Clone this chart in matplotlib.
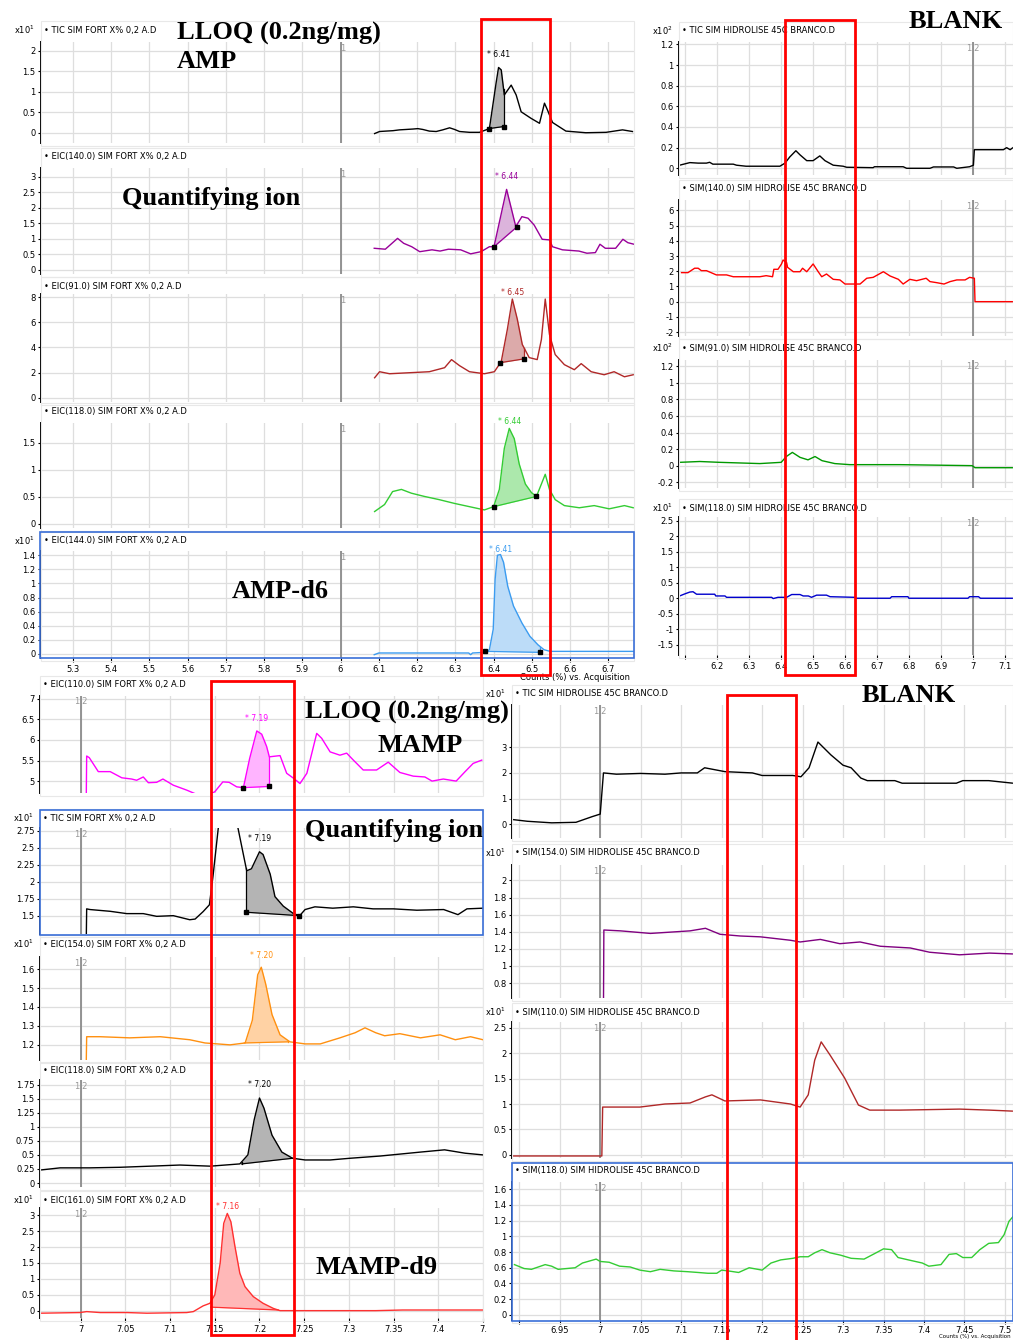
import numpy as np
import matplotlib.pyplot as plt
from matplotlib.patches import Rectangle

W, H = 1013, 1340

# ---------------- AMP, LLOQ (top-left) ----------------
tl1_t = [6.089, 6.102, 6.119, 6.137, 6.154, 6.172, 6.189, 6.202, 6.215, 6.232, 6.25, 6.267, 6.285,
         6.298, 6.311, 6.337, 6.363, 6.389, 6.407, 6.413, 6.42, 6.428, 6.446, 6.459, 6.472, 6.498,
         6.52, 6.533, 6.541, 6.554, 6.589, 6.641, 6.694, 6.737, 6.763]
tl1_y = [-0.02, 0.03, 0.04, 0.05, 0.07, 0.08, 0.09, 0.10, 0.08, 0.04, 0.03, 0.07, 0.12,
         0.08, 0.03, 0.01, 0.01, 0.10, 1.24, 1.59, 1.53, 0.92, 1.16, 0.92, 0.51, 0.35,
         0.23, 0.72, 0.55, 0.25, 0.04, 0.0, 0.01, 0.07, 0.03]

tl2_t = [6.088, 6.117, 6.149, 6.165, 6.186, 6.207, 6.239, 6.26, 6.282, 6.314, 6.34, 6.367, 6.389,
         6.401, 6.434, 6.458, 6.474, 6.49, 6.506, 6.527, 6.546, 6.554, 6.58, 6.623, 6.644, 6.666,
         6.678, 6.692, 6.719, 6.738, 6.751, 6.767]
tl2_y = [0.70, 0.67, 1.02, 0.86, 0.75, 0.59, 0.65, 0.61, 0.67, 0.65, 0.52, 0.59, 0.75,
         0.75, 2.60, 1.40, 1.72, 1.67, 1.45, 0.99, 0.97, 0.75, 0.65, 0.61, 0.54, 0.56,
         0.83, 0.70, 0.70, 0.99, 0.88, 0.83]

tl3_t = [6.089, 6.102, 6.128, 6.18, 6.232, 6.272, 6.29, 6.311, 6.337, 6.376, 6.402, 6.42, 6.436,
         6.449, 6.462, 6.475, 6.493, 6.514, 6.525, 6.535, 6.546, 6.561, 6.585, 6.611, 6.629,
         6.655, 6.689, 6.715, 6.742, 6.765]
tl3_y = [1.6, 2.08, 1.92, 2.0, 2.08, 2.4, 3.04, 2.56, 2.08, 1.92, 2.08, 2.88, 5.44,
         7.84, 6.24, 4.24, 3.2, 3.04, 4.64, 7.84, 5.04, 3.44, 2.64, 2.24, 2.72,
         2.08, 1.84, 2.08, 1.68, 1.84]

tl4_t = [6.089, 6.115, 6.136, 6.159, 6.185, 6.219, 6.258, 6.298, 6.337, 6.376, 6.4, 6.415, 6.428,
         6.441, 6.454, 6.467, 6.483, 6.499, 6.512, 6.525, 6.535, 6.546, 6.561, 6.585, 6.624,
         6.663, 6.702, 6.742, 6.765]
tl4_y = [0.23, 0.36, 0.60, 0.64, 0.57, 0.51, 0.45, 0.38, 0.32, 0.26, 0.32, 0.64, 1.40,
         1.77, 1.58, 1.11, 0.74, 0.58, 0.51, 0.74, 0.92, 0.64, 0.45, 0.34, 0.30,
         0.34, 0.28, 0.34, 0.30]

tl5_t = [6.088, 6.1, 6.335, 6.34, 6.345, 6.378, 6.389, 6.399, 6.404, 6.41, 6.418, 6.426, 6.437,
         6.452, 6.474, 6.495, 6.516, 6.532, 6.548, 6.767]
tl5_y = [-0.01, 0.014, 0.014, -0.01, 0.014, 0.023, 0.06, 0.35, 1.06, 1.40, 1.41, 1.30, 0.96,
         0.68, 0.44, 0.25, 0.13, 0.06, 0.037, 0.037]

# ---------------- BLANK (top-right) ----------------
tr1_t = [6.082, 6.114, 6.14, 6.166, 6.176, 6.186, 6.25, 6.26, 6.29, 6.396, 6.412, 6.427, 6.446,
         6.459, 6.48, 6.5, 6.521, 6.537, 6.563, 6.594, 6.605, 6.688, 6.692, 6.782, 6.793, 6.866,
         6.877, 6.94, 6.95, 6.99, 7.002, 7.005, 7.096, 7.106, 7.117, 7.126]
tr1_y = [0.03, 0.055, 0.05, 0.05, 0.058, 0.04, 0.04, 0.03, 0.02, 0.02, 0.05, 0.11, 0.17,
         0.13, 0.074, 0.074, 0.12, 0.074, 0.03, 0.02, 0.01, 0.006, 0.015, 0.015, 0.0, 0.0,
         0.013, 0.013, 0.0, 0.015, 0.03, 0.18, 0.18, 0.2, 0.18, 0.2]

tr2_t = [6.088, 6.108, 6.129, 6.14, 6.15, 6.166, 6.197, 6.229, 6.25, 6.302, 6.333, 6.353, 6.373,
         6.377, 6.39, 6.401, 6.406, 6.417, 6.42, 6.438, 6.459, 6.467, 6.48, 6.5, 6.516, 6.527,
         6.542, 6.563, 6.584, 6.6, 6.626, 6.647, 6.668, 6.688, 6.72, 6.741, 6.767, 6.782, 6.803,
         6.824, 6.854, 6.866, 6.887, 6.91, 6.929, 6.95, 6.976, 6.99, 7.005, 7.007, 7.126]
tr2_y = [1.91, 1.91, 2.2, 2.2, 2.04, 2.04, 1.76, 1.76, 1.64, 1.64, 1.64, 1.71, 1.64,
         2.13, 2.13, 2.48, 2.74, 2.57, 2.26, 1.97, 1.97, 2.2, 1.97, 2.48, 1.97, 1.64,
         1.82, 1.47, 1.43, 1.16, 1.16, 1.16, 1.54, 1.6, 1.97, 1.69, 1.47, 1.16, 1.47,
         1.38, 1.54, 1.32, 1.25, 1.16, 1.32, 1.43, 1.43, 1.6, 1.54, 0.0, 0.0]

tr3_t = [6.082, 6.145, 6.207, 6.333, 6.4, 6.416, 6.435, 6.459, 6.484, 6.506, 6.528, 6.568, 6.615,
         6.772, 6.998, 7.007, 7.126]
tr3_y = [0.04, 0.05, 0.04, 0.025, 0.04, 0.11, 0.16, 0.10, 0.07, 0.11, 0.06, 0.025, 0.012,
         0.012, 0.0, -0.025, -0.025]

tr4_t = [6.082, 6.098, 6.114, 6.124, 6.135, 6.192, 6.195, 6.224, 6.229, 6.37, 6.375, 6.39, 6.417,
         6.433, 6.459, 6.469, 6.485, 6.495, 6.511, 6.542, 6.553, 6.631, 6.636, 6.741, 6.746,
         6.797, 6.8, 6.985, 6.99, 7.018, 7.024, 7.126]
tr4_y = [0.074, 0.14, 0.2, 0.21, 0.13, 0.13, 0.074, 0.074, 0.03, 0.03, -0.01, 0.03, 0.03,
         0.12, 0.12, 0.074, 0.074, 0.03, 0.1, 0.1, 0.05, 0.03, 0.0, 0.0, 0.05,
         0.05, 0.0, 0.0, 0.05, 0.05, 0.0, 0.0]

# ---------------- MAMP, LLOQ (bottom-left) ----------------
bl1_t = [7.0062, 7.0067, 7.0096, 7.0197, 7.033, 7.046, 7.057, 7.0626, 7.07, 7.0757, 7.085, 7.092,
         7.1036, 7.1186, 7.1316, 7.141, 7.15, 7.159, 7.166, 7.1745, 7.182, 7.189, 7.197, 7.2025,
         7.208, 7.211, 7.223, 7.2304, 7.238, 7.2453, 7.253, 7.264, 7.2696, 7.279, 7.29, 7.2975,
         7.305, 7.316, 7.331, 7.344, 7.357, 7.372, 7.385, 7.393, 7.4056, 7.42, 7.43, 7.439, 7.4486]
bl1_y = [4.5, 5.61, 5.57, 5.23, 5.23, 5.08, 5.05, 5.02, 5.10, 4.96, 4.97, 5.05,
         4.90, 4.78, 4.66, 4.64, 4.74, 4.98, 4.97, 4.86, 4.84, 5.55, 6.22, 6.14,
         5.84, 5.59, 5.62, 5.19, 5.07, 4.94, 5.19, 6.16, 6.04, 5.71, 5.63, 5.68,
         5.51, 5.27, 5.27, 5.46, 5.21, 5.12, 5.10, 5.0, 5.05, 5.0, 5.23, 5.43, 5.51]

bl2_t = [7.0062, 7.0067, 7.0104, 7.033, 7.0515, 7.07, 7.085, 7.1036, 7.122, 7.128, 7.137, 7.144,
         7.148, 7.154, 7.158, 7.17, 7.175, 7.1857, 7.191, 7.2, 7.204, 7.212, 7.2173, 7.2266,
         7.238, 7.245, 7.251, 7.262, 7.282, 7.305, 7.327, 7.35, 7.376, 7.406, 7.422, 7.432, 7.45]
bl2_y = [1.1, 1.60, 1.59, 1.564, 1.53, 1.53, 1.49, 1.50, 1.44, 1.45, 1.56, 1.66,
         2.08, 2.80, 3.60, 3.60, 2.85, 2.16, 2.19, 2.44, 2.40, 2.11, 1.78, 1.64,
         1.53, 1.50, 1.59, 1.63, 1.61, 1.63, 1.60, 1.60, 1.58, 1.59, 1.515, 1.60, 1.61]

bl3_t = [7.0062, 7.0067, 7.0216, 7.055, 7.089, 7.122, 7.139, 7.167, 7.184, 7.192, 7.198, 7.202,
         7.207, 7.214, 7.223, 7.234, 7.251, 7.268, 7.29, 7.307, 7.318, 7.33, 7.34, 7.357, 7.38,
         7.402, 7.419, 7.436, 7.45]
bl3_y = [1.10, 1.243, 1.243, 1.237, 1.243, 1.227, 1.21, 1.20, 1.21, 1.33, 1.57, 1.61,
         1.52, 1.36, 1.253, 1.216, 1.205, 1.205, 1.237, 1.264, 1.29, 1.264, 1.248, 1.259, 1.237,
         1.253, 1.227, 1.243, 1.227]

bl4_t = [6.954, 6.977, 7.01, 7.044, 7.078, 7.111, 7.145, 7.178, 7.187, 7.194, 7.2, 7.205, 7.214,
         7.225, 7.237, 7.251, 7.279, 7.301, 7.335, 7.38, 7.407, 7.43, 7.45]
bl4_y = [0.23, 0.27, 0.27, 0.28, 0.30, 0.32, 0.30, 0.34, 0.50, 1.12, 1.51, 1.33, 0.85,
         0.55, 0.44, 0.41, 0.41, 0.44, 0.48, 0.55, 0.59, 0.53, 0.50]

bl5_t = [6.9545, 6.9992, 7.0067, 7.022, 7.052, 7.074, 7.1186, 7.126, 7.137, 7.1446, 7.15, 7.156,
         7.16, 7.164, 7.168, 7.1726, 7.178, 7.1838, 7.193, 7.204, 7.2155, 7.223, 7.29, 7.33,
         7.36, 7.45]
bl5_y = [-0.07, -0.05, -0.02, -0.05, -0.05, -0.07, -0.05, -0.02, 0.16, 0.24, 0.50, 1.49,
         2.74, 3.05, 2.79, 2.01, 1.18, 0.76, 0.45, 0.24, 0.08, 0.01, 0.01, 0.01,
         0.03, 0.03]

# ---------------- BLANK (bottom-right) ----------------
br1_t = [6.891, 6.91, 6.94, 6.97, 6.99, 7.0, 7.004, 7.02, 7.05, 7.08, 7.1, 7.12, 7.129, 7.154,
         7.188, 7.2, 7.238, 7.248, 7.258, 7.269, 7.285, 7.3, 7.31, 7.322, 7.33, 7.364, 7.373,
         7.44, 7.448, 7.48, 7.51]
br1_y = [0.19, 0.12, 0.06, 0.08, 0.30, 0.40, 2.0, 1.95, 1.98, 1.95, 2.0, 2.0, 2.2, 2.05,
         2.0, 1.9, 1.9, 1.85, 2.2, 3.2, 2.7, 2.3, 2.2, 1.8, 1.7, 1.7, 1.6,
         1.6, 1.7, 1.7, 1.6]

br2_t = [7.004, 7.0045, 7.025, 7.062, 7.111, 7.13, 7.148, 7.173, 7.198, 7.235, 7.247, 7.272,
         7.296, 7.321, 7.346, 7.383, 7.407, 7.444, 7.481, 7.51]
br2_y = [0.5, 1.42, 1.41, 1.38, 1.41, 1.44, 1.37, 1.35, 1.34, 1.30, 1.28, 1.31,
         1.26, 1.28, 1.23, 1.21, 1.16, 1.13, 1.15, 1.14]

br3_t = [6.891, 7.0, 7.002, 7.003, 7.049, 7.08, 7.111, 7.13, 7.138, 7.154, 7.198, 7.235, 7.247,
         7.257, 7.265, 7.273, 7.284, 7.302, 7.319, 7.333, 7.37, 7.444, 7.481, 7.51]
br3_y = [-0.02, -0.02, -0.02, 0.94, 0.94, 1.0, 1.02, 1.14, 1.18, 1.06, 1.08, 1.0, 0.94,
         1.18, 1.86, 2.22, 1.96, 1.51, 0.98, 0.88, 0.88, 0.90, 0.88, 0.86]

br4_t = [6.894, 6.906, 6.915, 6.932, 6.94, 6.948, 6.969, 6.978, 6.995, 7.0, 7.011, 7.024, 7.037,
         7.049, 7.062, 7.074, 7.091, 7.108, 7.121, 7.133, 7.144, 7.15, 7.158, 7.171, 7.184, 7.2,
         7.211, 7.223, 7.238, 7.247, 7.257, 7.265, 7.274, 7.284, 7.297, 7.31, 7.326, 7.339,
         7.35, 7.36, 7.368, 7.385, 7.398, 7.406, 7.421, 7.431, 7.44, 7.448, 7.459, 7.469, 7.48,
         7.492, 7.499, 7.505, 7.51]
br4_y = [0.64, 0.59, 0.58, 0.64, 0.62, 0.58, 0.60, 0.66, 0.71, 0.68, 0.67, 0.62, 0.61,
         0.57, 0.55, 0.58, 0.56, 0.55, 0.54, 0.53, 0.53, 0.57, 0.56, 0.54, 0.60, 0.57,
         0.66, 0.70, 0.72, 0.74, 0.74, 0.79, 0.83, 0.79, 0.76, 0.72, 0.71, 0.78,
         0.84, 0.83, 0.73, 0.69, 0.66, 0.62, 0.64, 0.77, 0.78, 0.73, 0.73, 0.83, 0.91,
         0.92, 1.02, 1.19, 1.25]

# integration windows: (start, base start, end, base end, label)
tl_peaks = [(6.387, 0.10, 6.426, 0.15, '* 6.41'), (6.401, 0.75, 6.46, 1.38, '* 6.44'),
            (6.418, 2.8, 6.48, 3.1, '* 6.45'), (6.40, 0.32, 6.512, 0.51, '* 6.44'),
            (6.378, 0.037, 6.522, 0.023, '* 6.41')]
bl_peaks = [(7.182, 4.84, 7.211, 4.87, '* 7.19'), (7.185, 1.55, 7.2445, 1.50, '* 7.19'),
            (7.183, 1.21, 7.232, 1.216, '* 7.20'), (7.18, 0.34, 7.237, 0.44, '* 7.20'),
            (7.1454, 0.12, 7.221, 0.03, '* 7.16')]

tl_labels = ['TIC SIM FORT X% 0,2 A.D', 'EIC(140.0) SIM FORT X% 0,2 A.D', 'EIC(91.0) SIM FORT X% 0,2 A.D',
             'EIC(118.0) SIM FORT X% 0,2 A.D', 'EIC(144.0) SIM FORT X% 0,2 A.D']
tr_labels = ['TIC SIM HIDROLISE 45C BRANCO.D', 'SIM(140.0) SIM HIDROLISE 45C BRANCO.D',
             'SIM(91.0) SIM HIDROLISE 45C BRANCO.D', 'SIM(118.0) SIM HIDROLISE 45C BRANCO.D']
bl_labels = ['EIC(110.0) SIM FORT X% 0,2 A.D', 'TIC SIM FORT X% 0,2 A.D', 'EIC(154.0) SIM FORT X% 0,2 A.D',
             'EIC(118.0) SIM FORT X% 0,2 A.D', 'EIC(161.0) SIM FORT X% 0,2 A.D']
br_labels = ['TIC SIM HIDROLISE 45C BRANCO.D', 'SIM(154.0) SIM HIDROLISE 45C BRANCO.D',
             'SIM(110.0) SIM HIDROLISE 45C BRANCO.D', 'SIM(118.0) SIM HIDROLISE 45C BRANCO.D']

tl_xticks = np.round(np.arange(5.3, 6.71, 0.1), 2)
tl_xlabels = ['5.3', '5.4', '5.5', '5.6', '5.7', '5.8', '5.9', '6', '6.1', '6.2', '6.3', '6.4', '6.5', '6.6', '6.7']
tr_xticks = np.round(np.arange(6.1, 7.11, 0.1), 2)
tr_xlabels = ['', '6.2', '6.3', '6.4', '6.5', '6.6', '6.7', '6.8', '6.9', '7', '7.1']
bl_xticks = np.round(np.arange(7.0, 7.451, 0.05), 2)
bl_xlabels = ['7', '7.05', '7.1', '7.15', '7.2', '7.25', '7.3', '7.35', '7.4', '7.']
br_xticks = np.round(np.arange(6.9, 7.51, 0.05), 2)
br_xlabels = ['', '6.95', '7', '7.05', '7.1', '7.15', '7.2', '7.25', '7.3', '7.35', '7.4', '7.45', '7.5']

fig = plt.figure(figsize=(W / 100, H / 100), dpi=100)
fig.patch.set_facecolor('white')
SMALL = 6


def ftext(x, y, s, **kw):
    return fig.text(x / W, 1 - y / H, s, **kw)


def panel(box, ly, xlim, ylim, yticks, xticks, t, y, color, label, mult=None,
          mark=None, mark_txt='1|2', peak=None, fillc=None, squares=False,
          xlabels=None, blue=False, xpad=2):
    l, top, r, b = box
    ax = fig.add_axes([l / W, 1 - b / H, (r - l) / W, (b - top) / H])
    ax.set_xlim(*xlim)
    ax.set_ylim(*ylim)
    ax.set_xticks(xticks)
    ax.set_yticks(yticks)
    ax.set_yticklabels(['{:g}'.format(v) for v in yticks])
    ax.grid(True, color='#dedede', lw=0.9)
    ax.set_axisbelow(True)
    for s in ['top', 'right', 'bottom']:
        ax.spines[s].set_visible(False)
    ax.spines['left'].set_linewidth(1.4)
    ax.tick_params(axis='y', length=2.5, width=0.8, pad=1.5, labelsize=SMALL)
    if xlabels is None:
        ax.tick_params(axis='x', length=0, labelbottom=False)
    else:
        ax.set_xticklabels(xlabels)
        ax.tick_params(axis='x', length=3, width=0.8, pad=xpad, labelsize=SMALL)
    if mark is not None:
        ax.axvline(mark, color='#8c8c8c', lw=1.3, zorder=1.5)
        ax.text(mark, 0.985, mark_txt, transform=ax.get_xaxis_transform(),
                ha='left' if mark_txt == '1' else 'center', va='top', fontsize=SMALL, color='#999999')
    t = np.asarray(t)
    y = np.asarray(y)
    ax.plot(t, y, color=color, lw=1.0, zorder=3)
    if peak is not None:
        x0, b0, x1, b1, ptxt = peak
        xs = np.concatenate([[x0], t[(t > x0) & (t < x1)], [x1]])
        ys = np.interp(xs, t, y)
        bs = np.interp(xs, [x0, x1], [b0, b1])
        ax.fill_between(xs, bs, ys, color=fillc, lw=0, zorder=2)
        ax.plot([x0, x1], [b0, b1], color=color, lw=0.9, zorder=3)
        ax.plot([x1, x1], [b1, ys[-1]], color=color, lw=0.9, zorder=3)
        ax.plot([x0, x0], [b0, ys[0]], color=color, lw=0.9, zorder=3)
        if squares:
            ax.plot([x0, x1], [b0, b1], 's', color='black', ms=3.2, zorder=4)
        i = np.argmax(ys)
        py = min(ys[i] + 0.08 * (ylim[1] - ylim[0]), ylim[1] - 0.03 * (ylim[1] - ylim[0]))
        ax.text(xs[i], py, ptxt, ha='center', va='bottom', fontsize=SMALL - 0.5, color=color, zorder=5)
    ftext(l + 3, ly, '\u2022 ' + label, fontsize=SMALL, va='center', ha='left')
    if mult is not None:
        ftext(l - 6, ly, 'x10$^{%d}$' % mult, fontsize=SMALL, va='center', ha='right')
    # light panel outline
    fig.patches.append(Rectangle((l / W, 1 - (b + 3) / H), (r - l) / W, (b + 3 - ly + 9) / H,
                                 transform=fig.transFigure, fill=False, ec='#e8e8e8', lw=0.8))
    if blue:
        fig.patches.append(Rectangle((blue[0] / W, 1 - blue[3] / H), (blue[2] - blue[0]) / W,
                                     (blue[3] - blue[1]) / H, transform=fig.transFigure,
                                     fill=False, ec='#3a6fd8', lw=1.2, zorder=10))
    return ax


# top-left group
TLX = (5.217, 6.767)
panel((41, 42, 634, 143), 30, TLX, (-0.25, 2.21), [0, 0.5, 1, 1.5, 2], tl_xticks, tl1_t, tl1_y,
      'black', tl_labels[0], mult=1, mark=6.0, mark_txt='1', peak=tl_peaks[0], fillc='#b4b4b4', squares=True)
panel((41, 168, 634, 274), 157, TLX, (-0.13, 3.29), [0, 0.5, 1, 1.5, 2, 2.5, 3], tl_xticks, tl2_t, tl2_y,
      '#990099', tl_labels[1], mark=6.0, mark_txt='1', peak=tl_peaks[1], fillc='#dcb4dc', squares=True)
panel((41, 294, 634, 402), 286, TLX, (-0.32, 8.24), [0, 2, 4, 6, 8], tl_xticks, tl3_t, tl3_y,
      '#b02828', tl_labels[2], mark=6.0, mark_txt='1', peak=tl_peaks[2], fillc='#dcaaaa', squares=True)
panel((41, 423, 634, 528), 412, TLX, (-0.075, 1.87), [0, 0.5, 1, 1.5], tl_xticks, tl4_t, tl4_y,
      '#33cc33', tl_labels[3], mark=6.0, mark_txt='1', peak=tl_peaks[3], fillc='#ace8ac', squares=True)
panel((41, 551, 634, 658), 541, TLX, (-0.057, 1.46), [0, 0.2, 0.4, 0.6, 0.8, 1, 1.2, 1.4], tl_xticks,
      tl5_t, tl5_y, '#3c9cf0', tl_labels[4], mult=1, mark=6.0, mark_txt='1', peak=tl_peaks[4],
      fillc='#bcdcf8', squares=True, xlabels=tl_xlabels, blue=(40, 532, 634, 658))
ftext(520, 678, 'Counts (%) vs. Acquisition', fontsize=SMALL, va='center', ha='left')

# top-right group
TRX = (6.080, 7.126)
panel((679, 42, 1013, 175), 30.7, TRX, (-0.065, 1.223), [0, 0.2, 0.4, 0.6, 0.8, 1, 1.2], tr_xticks,
      tr1_t, tr1_y, 'black', tr_labels[0], mult=2, mark=7.0)
panel((679, 200, 1013, 336), 189, TRX, (-2.26, 6.69), [-2, -1, 0, 1, 2, 3, 4, 5, 6], tr_xticks,
      tr2_t, tr2_y, '#ff0000', tr_labels[1], mark=7.0)
panel((679, 360, 1013, 488), 348, TRX, (-0.27, 1.276), [-0.2, 0, 0.2, 0.4, 0.6, 0.8, 1, 1.2], tr_xticks,
      tr3_t, tr3_y, '#009900', tr_labels[2], mult=2, mark=7.0)
panel((679, 517, 1013, 655), 508, TRX, (-1.83, 2.62), [-1.5, -1, -0.5, 0, 0.5, 1, 1.5, 2, 2.5], tr_xticks,
      tr4_t, tr4_y, '#0000cc', tr_labels[3], mult=1, mark=7.0, xlabels=tr_xlabels)

# bottom-left group
BLX = (6.9545, 7.45)
panel((40, 696, 483, 793), 685, BLX, (4.71, 7.07), [5, 5.5, 6, 6.5, 7], bl_xticks, bl1_t, bl1_y,
      '#ff00ff', bl_labels[0], mark=7.0, peak=bl_peaks[0], fillc='#ffb4ff', squares=True)
panel((40, 828, 483, 934), 818, BLX, (1.23, 2.79), [1.5, 1.75, 2, 2.25, 2.5, 2.75], bl_xticks, bl2_t, bl2_y,
      'black', bl_labels[1], mult=1, mark=7.0, peak=bl_peaks[1], fillc='#b4b4b4', squares=True,
      blue=(40, 810, 483, 935))
panel((40, 957, 483, 1060), 944, BLX, (1.12, 1.664), [1.2, 1.3, 1.4, 1.5, 1.6], bl_xticks, bl3_t, bl3_y,
      '#ff9010', bl_labels[2], mult=1, mark=7.0, peak=bl_peaks[2], fillc='#ffd2a4')
panel((40, 1080, 483, 1187), 1071, BLX, (-0.07, 1.83), [0, 0.25, 0.5, 0.75, 1, 1.25, 1.5, 1.75], bl_xticks,
      bl4_t, bl4_y, 'black', bl_labels[3], mark=7.0, peak=bl_peaks[3], fillc='#b4b4b4')
panel((40, 1208, 483, 1318), 1200, BLX, (-0.22, 3.22), [0, 0.5, 1, 1.5, 2, 2.5, 3], bl_xticks,
      bl5_t, bl5_y, '#ff3030', bl_labels[4], mult=1, mark=7.0, peak=bl_peaks[4], fillc='#ffb8b8',
      xlabels=bl_xlabels)

# bottom-right group
BRX = (6.891, 7.51)
panel((512, 705, 1013, 838), 694, BRX, (-0.53, 4.64), [0, 1, 2, 3], br_xticks, br1_t, br1_y,
      'black', br_labels[0], mult=1, mark=7.0)
panel((512, 865, 1013, 998), 853, BRX, (0.625, 2.18), [0.8, 1, 1.2, 1.4, 1.6, 1.8, 2], br_xticks,
      br2_t, br2_y, '#800080', br_labels[1], mult=1, mark=7.0)
panel((512, 1022, 1013, 1158), 1012, BRX, (-0.06, 2.61), [0, 0.5, 1, 1.5, 2, 2.5], br_xticks,
      br3_t, br3_y, '#b02828', br_labels[2], mult=1, mark=7.0)
panel((512, 1182, 1013, 1320), 1171, BRX, (-0.064, 1.69), [0, 0.2, 0.4, 0.6, 0.8, 1, 1.2, 1.4, 1.6],
      br_xticks, br4_t, br4_y, '#33cc33', br_labels[3], mark=7.0, xlabels=br_xlabels,
      blue=(512, 1163, 1013, 1321), xpad=1)
ftext(1011, 1336.8, 'Counts (%) vs. Acquisition', fontsize=4, va='center', ha='right')

# big annotations
SER = dict(family=['Liberation Serif', 'DejaVu Serif'], weight='bold', fontsize=19, va='center', ha='left')
ftext(177, 33, 'LLOQ (0.2ng/mg)', **SER)
ftext(177, 62, 'AMP', **SER)
ftext(122, 198, 'Quantifying ion', **SER)
ftext(232, 592, 'AMP-d6', **SER)
ftext(909, 21, 'BLANK', **SER)
ftext(305, 712, 'LLOQ (0.2ng/mg)', **SER)
ftext(378, 745, 'MAMP', **SER)
ftext(305, 831, 'Quantifying ion', **SER)
ftext(316, 1268, 'MAMP-d9', **SER)
ftext(862, 696, 'BLANK', **SER)

# red highlight boxes
for (x0, y0, x1, y1) in [(481, 19, 550, 675), (785, 20, 855, 675), (211, 681, 294, 1335), (727, 695, 796, 1342)]:
    fig.patches.append(Rectangle((x0 / W, 1 - y1 / H), (x1 - x0) / W, (y1 - y0) / H,
                                 transform=fig.transFigure, fill=False, ec='#ff0000', lw=2.0, zorder=20))

fig.savefig('out.png', dpi=100)
